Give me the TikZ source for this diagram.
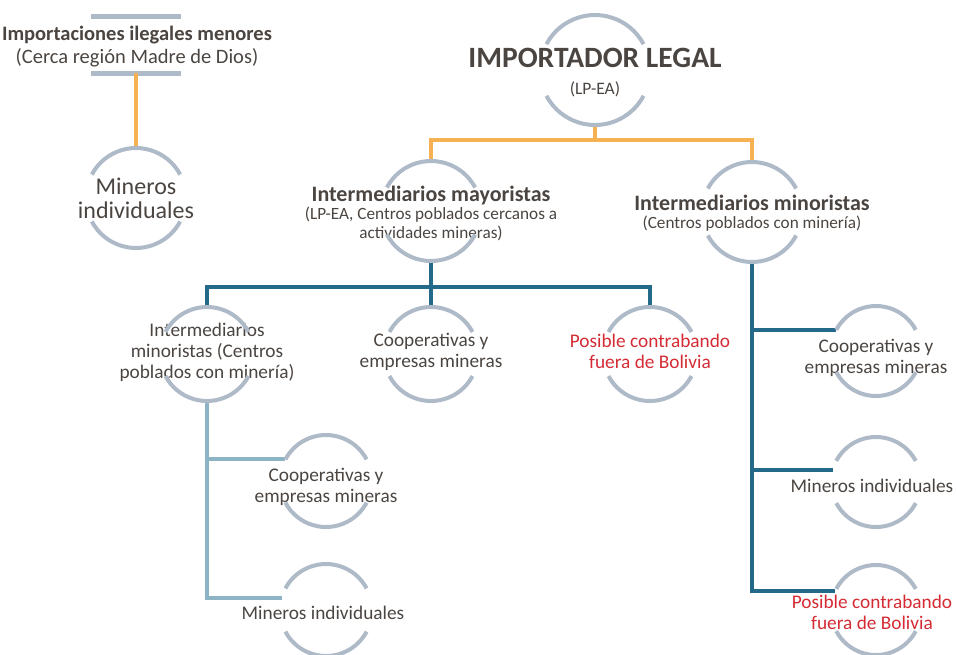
\documentclass[tikz,border=0pt]{standalone}
\usepackage{fontspec}
\setmainfont{Carlito}
\usepackage{xcolor}
\usepackage{tikz}

\definecolor{ringgray}{HTML}{AFBAC8}
\definecolor{gold}{HTML}{F5B152}
\definecolor{deepteal}{HTML}{24698A}
\definecolor{paleteal}{HTML}{8CB4C5}
\definecolor{inkgray}{HTML}{4B4541}
\definecolor{alertred}{HTML}{D42B34}

\begin{document}
\begin{tikzpicture}[x=1pt, y=1pt,
        ring/.style={circle, minimum size=#1, inner sep=0pt, outer sep=0pt},
        arcline/.style={draw=ringgray, line width=4pt},
        txt/.style={align=center, text=inkgray, inner sep=0pt, font=\fontsize{19.3}{21}\selectfont},
        small/.style={txt, font=\fontsize{17.2}{18.5}\selectfont},
        goldline/.style={draw=gold, line width=4pt},
        tealline/.style={draw=deepteal, line width=4pt},
        paleline/.style={draw=paleteal, line width=4pt}]
        \useasboundingbox (0, 0) rectangle (957, -654);

        % upper left
        \node[txt, font=\fontsize{20.5}{23}\selectfont] (ilg) at (137, -47) {\textbf{Importaciones ilegales menores}\\(Cerca región Madre de Dios)};
        \coordinate (ilgtop) at (136, -16);
        \coordinate (ilgbot) at (136, -73);
        \draw[arcline, line width=5pt] ([xshift=-45pt]ilgtop) -- ([xshift=45pt]ilgtop);
        \draw[arcline, line width=5pt] ([xshift=-45pt]ilgbot) -- ([xshift=45pt]ilgbot);
        \node[ring=100pt] (minx) at (136, -198) {};
        \node[txt, font=\fontsize{24}{24}\selectfont] (minx-t) at (136, -198) {Mineros\\individuales};
        \draw[goldline] (ilgbot) -- (minx.north);

        % top
        \node[ring=110pt] (imp) at (595, -70) {};
        \node[txt] (imp-t) at (595, -73) {\fontsize{29.5}{30}\selectfont\textbf{IMPORTADOR LEGAL}\\[6pt]\fontsize{17.5}{18}\selectfont(LP-EA)};
        \node[ring=100pt] (may) at (431, -211) {};
        \node[small] (may-t) at (431, -213) {\fontsize{22}{20}\selectfont\textbf{Intermediarios mayoristas}\\(LP-EA, Centros poblados cercanos a\\actividades mineras)};
        \node[ring=100pt] (minr) at (752, -212) {};
        \node[small] (minr-t) at (752, -213) {\fontsize{22}{21}\selectfont\textbf{Intermediarios minoristas}\\(Centros poblados con minería)};
        \draw[goldline] (imp.south) -- ++(0, -15) coordinate (j1) -| (may.north);
        \draw[goldline] (j1) -| (minr.north);

        % second row
        \node[ring=94pt] (imr) at (207, -354) {};
        \node[txt] (imr-t) at (207, -352) {Intermediarios\\minoristas (Centros\\poblados con minería)};
        \node[ring=94pt] (coop1) at (431, -354) {};
        \node[txt] (coop1-t) at (431, -352) {Cooperativas y\\empresas mineras};
        \node[ring=94pt] (cont1) at (650, -354) {};
        \node[txt, text=alertred] (cont1-t) at (650, -351) {Posible contrabando\\fuera de Bolivia};
        \draw[tealline] (may.south) -- ++(0, -26) coordinate (j2) -| (imr.north);
        \draw[tealline] (j2) -| (cont1.north);
        \draw[tealline] (j2) -- (coop1.north);

        % lower left
        \node[ring=92pt] (coop2) at (326, -481) {};
        \node[txt] (coop2-t) at (326, -487) {Cooperativas y\\empresas mineras};
        \node[ring=92pt] (min2) at (326, -610) {};
        \node[txt] (min2-t) at (323, -613) {Mineros individuales};
        \draw[paleline] (imr.south) |- (coop2.152);
        \draw[paleline] (imr.south) |- (min2.165);

        % right column
        \node[ring=90pt] (coop3) at (876, -351) {};
        \node[txt] (coop3-t) at (876, -358) {Cooperativas y\\empresas mineras};
        \node[ring=90pt] (min3) at (876, -482) {};
        \node[txt] (min3-t) at (872, -486) {Mineros individuales};
        \node[ring=90pt] (cont3) at (876, -610) {};
        \node[txt, text=alertred] (cont3-t) at (872, -612) {Posible contrabando\\fuera de Bolivia};
        \draw[tealline] (minr.south) |- (coop3.152);
        \draw[tealline] (minr.south) |- (min3.165);
        \draw[tealline] (minr.south) |- (cont3.155);

        % the open rings
        \foreach \n/\r in {minx/50, imp/55, may/50, minr/50, imr/47, coop1/47, cont1/47,
                coop2/46, min2/46, coop3/45, min3/45, cont3/45} {
            \draw[arcline] (\n.28) arc (28:152:\r);
            \draw[arcline] (\n.208) arc (208:332:\r);
        }
    \end{tikzpicture}
\end{document}
